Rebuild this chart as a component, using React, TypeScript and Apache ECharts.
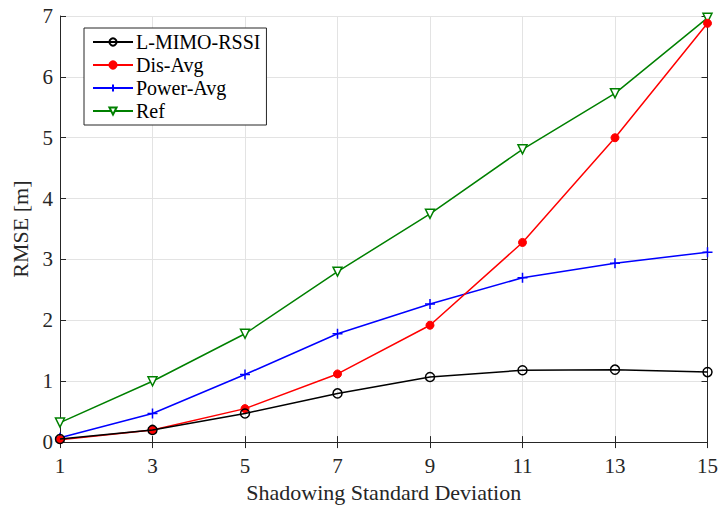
import React, { useEffect, useRef } from "react";
import * as echarts from "echarts";

const categories = ["1", "3", "5", "7", "9", "11", "13", "15"];
const lMimoRssi = [0.05, 0.2, 0.47, 0.8, 1.07, 1.18, 1.19, 1.15];
const disAvg = [0.04, 0.2, 0.55, 1.12, 1.92, 3.28, 5.0, 6.88];
const powerAvg = [0.07, 0.47, 1.11, 1.78, 2.27, 2.7, 2.94, 3.12];
const refData = [0.32, 1.0, 1.78, 2.8, 3.75, 4.81, 5.73, 6.97];

const FONT = "'Liberation Serif', 'DejaVu Serif', serif";
const AXC = "#262626";

export default function App() {
  const ref = useRef<HTMLDivElement>(null);
  useEffect(() => {
    const chart = echarts.init(ref.current!, null, { renderer: "svg" });
    const plus = "path://M0,-5 L0,5 M-5,0 L5,0";
    chart.setOption({
      animation: false,
      backgroundColor: "#fff",
      textStyle: { fontFamily: FONT },
      grid: { left: 60, right: 12, top: 16, bottom: 62, show: false },
      legend: {
        orient: "vertical",
        left: 84,
        top: 28,
        padding: [4, 6, 4, 8],
        itemGap: 3,
        itemWidth: 40,
        itemHeight: 9,
        backgroundColor: "#fff",
        borderColor: "#262626",
        borderWidth: 1,
        textStyle: { fontFamily: FONT, fontSize: 20, color: "#000", padding: [0, 0, 0, -2] },
        data: ["L-MIMO-RSSI", "Dis-Avg", "Power-Avg", "Ref"],
      },
      xAxis: [
        {
          type: "category",
          data: categories,
          boundaryGap: false,
          name: "Shadowing Standard Deviation",
          nameLocation: "middle",
          nameGap: 38,
          nameTextStyle: { fontFamily: FONT, fontSize: 22, color: AXC },
          axisLine: { show: true, lineStyle: { color: AXC, width: 1 } },
          axisTick: { show: true, inside: true, length: 6, lineStyle: { color: AXC } },
          axisLabel: { fontFamily: FONT, fontSize: 21, color: AXC, margin: 13 },
          splitLine: { show: true, lineStyle: { color: "#e3e3e3", width: 1 } },
        },
        {
          type: "category",
          data: categories,
          boundaryGap: false,
          position: "top",
          axisLine: { show: true, lineStyle: { color: AXC, width: 1 } },
          axisTick: { show: true, inside: true, length: 6, lineStyle: { color: AXC } },
          axisLabel: { show: false },
          splitLine: { show: false },
        },
      ],
      yAxis: [
        {
          type: "value",
          min: 0,
          max: 7,
          interval: 1,
          name: "RMSE [m]",
          nameLocation: "middle",
          nameGap: 24,
          nameRotate: 90,
          nameTextStyle: { fontFamily: FONT, fontSize: 22, color: AXC },
          axisLine: { show: true, lineStyle: { color: AXC, width: 1 } },
          axisTick: { show: true, inside: true, length: 6, lineStyle: { color: AXC } },
          axisLabel: { fontFamily: FONT, fontSize: 21, color: AXC, margin: 7 },
          splitLine: { show: true, lineStyle: { color: "#e3e3e3", width: 1 } },
        },
        {
          type: "value",
          min: 0,
          max: 7,
          interval: 1,
          position: "right",
          axisLine: { show: true, lineStyle: { color: AXC, width: 1 } },
          axisTick: { show: true, inside: true, length: 6, lineStyle: { color: AXC } },
          axisLabel: { show: false },
          splitLine: { show: false },
        },
      ],
      series: [
        {
          name: "Ref",
          type: "line",
          data: refData,
          symbol: "triangle",
          symbolRotate: 180,
          symbolSize: 9,
          lineStyle: { color: "#008000", width: 1.5 },
          itemStyle: { color: "#fff", borderColor: "#008000", borderWidth: 1.5 },
          z: 2,
        },
        {
          name: "Power-Avg",
          type: "line",
          data: powerAvg,
          symbol: plus,
          symbolSize: 10,
          lineStyle: { color: "#0000ff", width: 1.5 },
          itemStyle: { color: "#0000ff", borderColor: "#0000ff", borderWidth: 1.5 },
          z: 3,
        },
        {
          name: "Dis-Avg",
          type: "line",
          data: disAvg,
          symbol: "circle",
          symbolSize: 8,
          lineStyle: { color: "#ff0000", width: 1.5 },
          itemStyle: { color: "#ff0000", borderColor: "#ff0000", borderWidth: 1 },
          z: 4,
        },
        {
          name: "L-MIMO-RSSI",
          type: "line",
          data: lMimoRssi,
          symbol: "circle",
          symbolSize: 9,
          lineStyle: { color: "#000", width: 1.5 },
          itemStyle: { color: "none", borderColor: "#000", borderWidth: 1.5 },
          z: 5,
        },
      ],
    });
    return () => chart.dispose();
  }, []);
  return (
    <div
      ref={ref}
      style={{ position: "fixed", left: 0, top: 0, width: 721, height: 508 }}
    />
  );
}
